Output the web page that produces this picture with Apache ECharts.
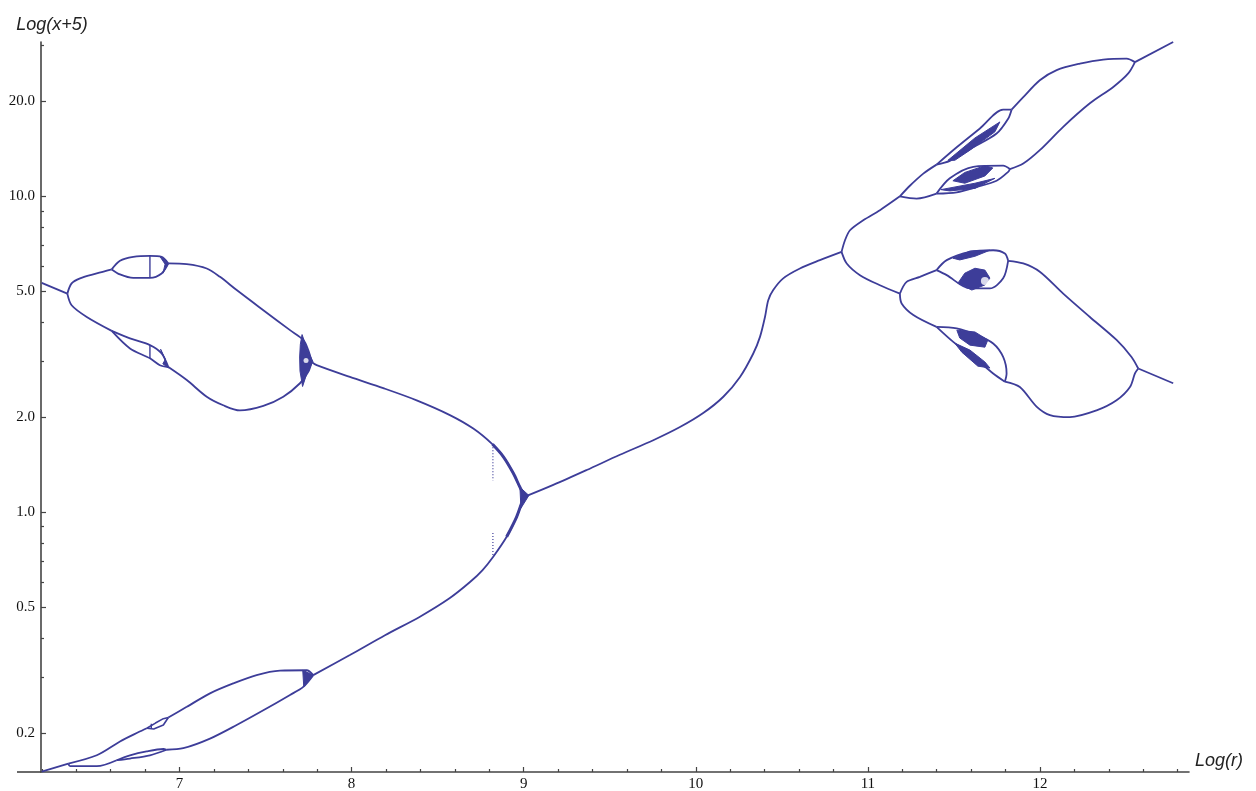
<!DOCTYPE html>
<html>
<head>
<meta charset="utf-8">
<script src="https://cdn.jsdelivr.net/npm/echarts@6/dist/echarts.min.js"></script>
<style>html,body{margin:0;padding:0;background:#fff;}#c{width:1256px;height:791px;}</style>
</head>
<body>
<div id="c"></div>
<script>
// ---- tick values ----
const xMajorTicks = [7, 8, 9, 10, 11, 12];
const xMinorTicks = [6.2,6.4,6.6,6.8,7.2,7.4,7.6,7.8,8.2,8.4,8.6,8.8,9.2,9.4,9.6,9.8,10.2,10.4,10.6,10.8,11.2,11.4,11.6,11.8,12.2,12.4,12.6,12.8];
const yMajorTicks = [0.2, 0.5, 1, 2, 5, 10, 20];
const yMinorTicks = [0.3, 0.4, 0.6, 0.7, 0.8, 0.9, 3, 4, 6, 7, 8, 9, 30];

// ---- branches of the diagram: [log(r), x+5] ----
const leftStart = [[6.199,5.32],[6.348,4.92]];
const leftUpper = [[6.348,4.92],[6.373,5.30],[6.422,5.50],[6.519,5.70],[6.606,5.87]];
const leftUpperLoopTop = [[6.606,5.87],[6.654,6.25],[6.731,6.43],[6.828,6.48],[6.896,6.43],[6.935,6.13]];
const leftUpperLoopBottom = [[6.606,5.87],[6.654,5.66],[6.731,5.52],[6.828,5.52],[6.896,5.70],[6.935,6.13]];
const leftUpperDown = [[6.935,6.13],[7.042,6.10],[7.158,5.91],[7.235,5.56],[7.332,5.05],[7.487,4.36],[7.642,3.77],[7.719,3.51],[7.748,3.26],[7.768,2.99]];
const leftLower = [[6.348,4.92],[6.373,4.52],[6.461,4.15],[6.606,3.75]];
const leftLowerLoopTop = [[6.606,3.75],[6.712,3.55],[6.828,3.38],[6.896,3.18],[6.935,2.88]];
const leftLowerLoopBottom = [[6.606,3.75],[6.712,3.30],[6.828,3.07],[6.886,2.92],[6.935,2.88]];
const leftLowerDown = [[6.935,2.88],[7.042,2.62],[7.158,2.32],[7.254,2.18],[7.351,2.10],[7.487,2.17],[7.603,2.32],[7.700,2.56],[7.748,2.78],[7.768,2.99]];
const midUpper = [[7.768,2.99],[7.797,2.92],[7.990,2.68],[8.184,2.47],[8.378,2.26],[8.571,2.03],[8.707,1.84],[8.819,1.64],[8.881,1.50],[8.939,1.33],[8.978,1.20],[9.007,1.12]];

const bottomStart = [[6.199,0.151],[6.354,0.160]];
const bottomLoopUpper = [[6.354,0.160],[6.519,0.170],[6.654,0.188],[6.760,0.201],[6.810,0.207]];
const bottomSmallTop = [[6.810,0.207],[6.860,0.215],[6.906,0.222],[6.935,0.224]];
const bottomSmallBottom = [[6.810,0.207],[6.850,0.206],[6.906,0.212],[6.935,0.224]];
const bottomUpperRise = [[6.935,0.224],[7.042,0.242],[7.177,0.267],[7.312,0.287],[7.448,0.305],[7.584,0.315],[7.739,0.316],[7.777,0.305]];
const bottomLoopLower = [[6.354,0.160],[6.364,0.157],[6.519,0.157],[6.635,0.164]];
const bottomSmall2Top = [[6.635,0.164],[6.712,0.170],[6.809,0.175],[6.906,0.178],[6.925,0.177]];
const bottomSmall2Bottom = [[6.635,0.164],[6.712,0.166],[6.828,0.170],[6.925,0.177]];
const bottomLowerRise = [[6.925,0.177],[7.022,0.179],[7.177,0.192],[7.332,0.212],[7.487,0.236],[7.642,0.264],[7.719,0.280],[7.777,0.305]];
const midLower = [[7.777,0.305],[7.990,0.353],[8.194,0.408],[8.397,0.467],[8.571,0.535],[8.688,0.601],[8.761,0.656],[8.823,0.723],[8.901,0.836],[8.959,0.967],[8.994,1.09],[9.007,1.12]];

const rise = [[9.007,1.12],[9.172,1.22],[9.366,1.36],[9.559,1.52],[9.753,1.69],[9.908,1.86],[10.043,2.06],[10.160,2.32],[10.257,2.68],[10.334,3.18],[10.373,3.59],[10.402,4.15],[10.421,4.69],[10.450,5.05],[10.508,5.50],[10.605,5.91],[10.721,6.28],[10.847,6.67]];

const rightUpper = [[10.847,6.67],[10.867,7.26],[10.896,7.81],[10.973,8.40],[11.070,9.04],[11.186,10.0]];
const ruBigTop = [[11.186,10.0],[11.244,10.8],[11.322,11.8],[11.399,12.6]];
const ruSubTop = [[11.399,12.6],[11.516,14.3],[11.651,16.4],[11.786,18.8],[11.835,18.8]];
const ruSubBottom = [[11.399,12.6],[11.476,12.95],[11.612,14.3],[11.748,15.8],[11.815,17.6],[11.835,18.8]];
const ruBigBottom = [[11.186,10.0],[11.283,9.84],[11.399,10.2]];
const ruSub2Top = [[11.399,10.2],[11.476,11.4],[11.612,12.4],[11.786,12.5],[11.825,12.2]];
const ruSub2Bottom = [[11.399,10.2],[11.516,10.3],[11.632,10.7],[11.748,11.2],[11.815,11.95],[11.825,12.2]];
const ruUpperOut = [[11.835,18.8],[11.903,20.6],[11.999,23.3],[12.097,25.1],[12.232,26.3],[12.367,27.1],[12.503,27.3],[12.552,26.6]];
const ruLowerOut = [[11.825,12.2],[11.903,12.7],[11.999,14.0],[12.135,16.6],[12.290,19.7],[12.426,22.2],[12.513,24.5],[12.552,26.6]];
const ruEnd = [[12.552,26.6],[12.774,30.8]];

const rightLower = [[10.847,6.67],[10.877,6.13],[10.954,5.63],[11.070,5.23],[11.186,4.92]];
const rlBigTop = [[11.186,4.92],[11.225,5.36],[11.302,5.56],[11.399,5.84]];
const rlSubTop = [[11.399,5.84],[11.458,6.28],[11.593,6.67],[11.728,6.75],[11.796,6.59],[11.815,6.25]];
const rlSubBottom = [[11.399,5.84],[11.458,5.63],[11.593,5.11],[11.709,5.11],[11.786,5.50],[11.815,6.25]];
const rlBigBottom = [[11.186,4.92],[11.196,4.58],[11.264,4.21],[11.399,3.86]];
const rlSub2Top = [[11.399,3.86],[11.516,3.82],[11.632,3.64],[11.728,3.42],[11.786,3.10],[11.806,2.75],[11.796,2.59]];
const rlSub2Bottom = [[11.399,3.86],[11.496,3.46],[11.612,3.10],[11.728,2.75],[11.796,2.59]];
const rlUpperOut = [[11.815,6.25],[11.903,6.13],[11.999,5.77],[12.135,4.92],[12.290,4.15],[12.445,3.51],[12.532,3.10],[12.571,2.85]];
const rlLowerOut = [[11.796,2.59],[11.883,2.49],[11.980,2.16],[12.058,2.03],[12.174,2.00],[12.329,2.10],[12.445,2.26],[12.523,2.49],[12.552,2.75],[12.571,2.85]];
const rlEnd = [[12.571,2.85],[12.774,2.56]];

// vertical jumps
const jumpUpper = [[6.828,5.52],[6.828,6.48]];
const jumpLower = [[6.828,3.07],[6.828,3.38]];
const jumpBottom = [[6.836,0.206],[6.836,0.214]];
// dotted traces at log(r) ~ 8.82
const dotUpper = [[8.821,1.64],[8.821,1.26]];
const dotLower = [[8.821,0.859],[8.821,0.723]];
// thicker chaotic strands
const thickUpper = [[8.819,1.64],[8.881,1.50],[8.939,1.33],[8.978,1.20],[9.007,1.12]];
const thickLower = [[8.901,0.836],[8.959,0.967],[8.994,1.09],[9.007,1.12]];

// dense (chaotic) bands as filled polygons
const bandPolys = [
  [[6.886,6.45],[6.935,6.13],[6.904,5.71],[6.916,6.10]],
  [[6.890,3.28],[6.935,2.86],[6.903,2.95],[6.918,3.05]],
  [[7.712,3.65],[7.740,3.30],[7.775,3.00],[7.740,2.75],[7.715,2.50],[7.700,2.80],[7.698,3.10],[7.702,3.40]],
  [[7.716,0.316],[7.777,0.305],[7.722,0.280]],
  [[8.978,1.20],[9.030,1.13],[8.984,1.03]],
  [[11.465,13.0],[11.622,15.3],[11.767,17.2],[11.738,16.0],[11.593,14.0],[11.505,13.0]],
  [[11.494,11.2],[11.563,11.9],[11.680,12.5],[11.726,12.3],[11.680,11.6],[11.563,11.0]],
  [[11.424,10.5],[11.622,11.0],[11.738,11.4],[11.622,10.6],[11.476,10.4]],
  [[11.494,6.37],[11.593,6.71],[11.709,6.75],[11.622,6.46],[11.534,6.29]],
  [[11.523,5.31],[11.563,5.71],[11.622,5.92],[11.680,5.84],[11.709,5.51],[11.680,5.24],[11.604,5.05],[11.546,5.24]],
  [[11.517,3.77],[11.622,3.72],[11.697,3.51],[11.680,3.33],[11.593,3.38],[11.534,3.56]],
  [[11.505,3.43],[11.593,3.26],[11.680,2.99],[11.709,2.86],[11.639,2.90],[11.546,3.21]]
];
const holes = [[11.680,5.39],[7.735,3.02]];
const holeSizes = [8, 5];

const lineColor = '#3d3d99';
const axisColor = '#444';

const branches = [leftStart,leftUpper,leftUpperLoopTop,leftUpperLoopBottom,leftUpperDown,leftLower,leftLowerLoopTop,leftLowerLoopBottom,leftLowerDown,midUpper,
  bottomStart,bottomLoopUpper,bottomUpperRise,bottomLoopLower,bottomSmall2Top,bottomSmall2Bottom,bottomLowerRise,midLower,
  rise,rightUpper,ruBigTop,ruSubTop,ruSubBottom,ruBigBottom,ruSub2Top,ruSub2Bottom,ruUpperOut,ruLowerOut,ruEnd,
  rightLower,rlBigTop,rlSubTop,rlSubBottom,rlBigBottom,rlSub2Top,rlSub2Bottom,rlUpperOut,rlLowerOut,rlEnd];

const series = branches.map(function (d) {
  return {type:'line', data:d, symbol:'none', smooth:0.3, silent:true,
    lineStyle:{color:lineColor, width:1.8}};
});
[bottomSmallTop, bottomSmallBottom].forEach(function (d) {
  series.push({type:'line', data:d, symbol:'none', silent:true, lineStyle:{color:lineColor, width:1.6}});
});
[jumpUpper, jumpLower, jumpBottom].forEach(function (d) {
  series.push({type:'line', data:d, symbol:'none', silent:true, lineStyle:{color:lineColor, width:1.4}});
});
[dotUpper, dotLower].forEach(function (d) {
  series.push({type:'line', data:d, symbol:'none', silent:true, lineStyle:{color:lineColor, width:1.2, type:[1,2]}});
});
[thickUpper, thickLower].forEach(function (d) {
  series.push({type:'line', data:d, symbol:'none', smooth:0.3, silent:true, lineStyle:{color:lineColor, width:3}});
});
series.push({
  type:'custom', silent:true,
  data: bandPolys.map(function (p) { return p[0]; }),
  encode:{x:0, y:1},
  renderItem: function (params, api) {
    const poly = bandPolys[params.dataIndex];
    return {type:'polygon', shape:{points: poly.map(function (p) { return api.coord(p); })},
      style:{fill: lineColor, stroke: lineColor, lineWidth: 1}};
  }
});
series.push({type:'scatter', data:holes, silent:true, z:5,
  symbolSize:function (v, p) { return holeSizes[p.dataIndex]; }, itemStyle:{color:'#fff'}});

const chart = echarts.init(document.getElementById('c'), null, {renderer:'canvas'});
chart.setOption({
  animation:false,
  backgroundColor:'#fff',
  grid:{left:41, right:67, top:42, bottom:19, containLabel:false, outerBoundsMode:'none'},
  xAxis:[{
    type:'value', min:6.195, max:12.866, position:'bottom',
    name:'Log(r)', nameLocation:'end', nameGap:6,
    nameTextStyle:{fontFamily:'Liberation Sans', fontStyle:'italic', fontSize:18, color:'#222', align:'left', verticalAlign:'bottom', padding:[0,0,2,0]},
    axisLine:{onZero:false, lineStyle:{color:axisColor, width:1.6}},
    axisTick:{inside:true, length:5, customValues:xMajorTicks, lineStyle:{color:axisColor, width:1.2}},
    axisLabel:{customValues:xMajorTicks, margin:5, fontFamily:'Liberation Serif', fontSize:15, color:'#111'},
    splitLine:{show:false}
  },{
    type:'value', min:6.195, max:12.866, position:'bottom',
    axisLine:{show:false, onZero:false},
    axisTick:{inside:true, length:3, customValues:xMinorTicks, lineStyle:{color:axisColor, width:1.2}},
    axisLabel:{show:false},
    splitLine:{show:false}
  }],
  yAxis:[{
    type:'log', logBase:10, min:0.1505, max:30.8, position:'left',
    name:'Log(x+5)', nameLocation:'end', nameGap:8,
    nameTextStyle:{fontFamily:'Liberation Sans', fontStyle:'italic', fontSize:18, color:'#222', align:'center', padding:[0,0,0,22]},
    axisLine:{onZero:false, lineStyle:{color:axisColor, width:1.6}},
    axisTick:{inside:true, length:5, customValues:yMajorTicks, lineStyle:{color:axisColor, width:1.2}},
    axisLabel:{customValues:yMajorTicks, margin:6, fontFamily:'Liberation Serif', fontSize:15, color:'#111',
      formatter:function (v) { return Number(v).toFixed(1); }},
    splitLine:{show:false}
  },{
    type:'log', logBase:10, min:0.1505, max:30.8, position:'left',
    axisLine:{show:false, onZero:false},
    axisTick:{inside:true, length:3, customValues:yMinorTicks, lineStyle:{color:axisColor, width:1.2}},
    axisLabel:{show:false},
    splitLine:{show:false}
  }],
  graphic:[{type:'line', shape:{x1:17, y1:772, x2:41, y2:772}, style:{stroke:axisColor, lineWidth:1.6}, silent:true}],
  series: series
});
</script>
</body>
</html>
